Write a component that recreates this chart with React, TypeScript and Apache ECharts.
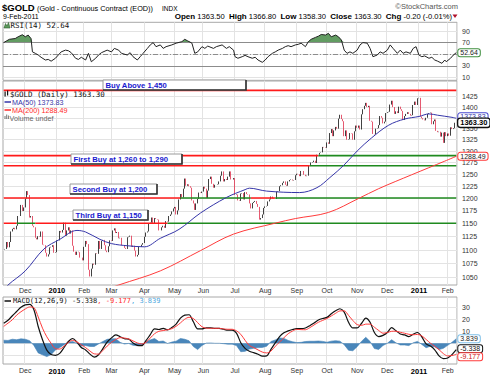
import React, { useEffect, useRef } from "react";
import * as echarts from "echarts";

// ---------------- data ----------------
const firstDay = "2009-11-09";
const lastDay = "2011-02-09";
const holidays = [
  "2009-11-26", "2009-12-25", "2010-01-01", "2010-01-18", "2010-02-15", "2010-04-02",
  "2010-05-31", "2010-07-05", "2010-09-06", "2010-11-25", "2010-12-24", "2011-01-17",
];

// daily closes, one per trading day
const closes: number[] = [
  // Nov 2009
  1101, 1102, 1115, 1105, 1115, 1135, 1140, 1142, 1139, 1146, 1165, 1165, 1187, 1175, 1182,
  // Dec 2009
  1200, 1215, 1207, 1162, 1165, 1146, 1143, 1123, 1120, 1126, 1125, 1135, 1110, 1109, 1095, 1088, 1092, 1105, 1106, 1109, 1095, 1096,
  // Jan 2010
  1118, 1118, 1136, 1133, 1138, 1152, 1127, 1137, 1143, 1131, 1137, 1108, 1097, 1091, 1097, 1096, 1086, 1086, 1081,
  // Feb 2010
  1106, 1117, 1111, 1064, 1052, 1066, 1075, 1073, 1094, 1093, 1117, 1102, 1117, 1119, 1109, 1099, 1096, 1107, 1118,
  // Mar 2010
  1117, 1137, 1141, 1132, 1134, 1122, 1123, 1109, 1109, 1104, 1102, 1124, 1125, 1127, 1106, 1108, 1099, 1088, 1091, 1106, 1106, 1110, 1113,
  // Apr 2010
  1125, 1133, 1135, 1151, 1152, 1162, 1150, 1161, 1159, 1158, 1137, 1137, 1143, 1146, 1142, 1155, 1154, 1165, 1168, 1174, 1180,
  // May 2010
  1183, 1168, 1176, 1198, 1209, 1202, 1220, 1241, 1226, 1229, 1225, 1222, 1196, 1190, 1177, 1190, 1199, 1212, 1211, 1214,
  // Jun 2010
  1224, 1220, 1201, 1216, 1240, 1245, 1230, 1222, 1228, 1228, 1229, 1235, 1247, 1256, 1235, 1240, 1238, 1245, 1256, 1239, 1239, 1242,
  // Jul 2010
  1207, 1208, 1196, 1195, 1210, 1211, 1198, 1213, 1209, 1208, 1190, 1180, 1191, 1193, 1195, 1189, 1183, 1158, 1161, 1168, 1181,
  // Aug 2010
  1184, 1185, 1194, 1198, 1204, 1200, 1199, 1199, 1214, 1215, 1225, 1227, 1232, 1235, 1228, 1226, 1235, 1238, 1239, 1237, 1238, 1248,
  // Sep 2010
  1251, 1250, 1246, 1257, 1257, 1249, 1246, 1247, 1268, 1268, 1275, 1276, 1279, 1274, 1292, 1292, 1296, 1297, 1309, 1308, 1307,
  // Oct 2010
  1319, 1316, 1340, 1349, 1333, 1346, 1354, 1350, 1373, 1382, 1372, 1367, 1333, 1346, 1325, 1326, 1340, 1339, 1325, 1344, 1357,
  // Nov 2010
  1352, 1357, 1348, 1383, 1395, 1403, 1410, 1400, 1403, 1368, 1366, 1338, 1337, 1350, 1351, 1358, 1379, 1375, 1362, 1366, 1386,
  // Dec 2010
  1388, 1389, 1406, 1415, 1400, 1384, 1390, 1386, 1401, 1395, 1391, 1370, 1379, 1384, 1388, 1384, 1380, 1381, 1405, 1413, 1405, 1421,
  // Jan 2011
  1422, 1378, 1374, 1371, 1369, 1375, 1384, 1386, 1387, 1360, 1367, 1371, 1345, 1342, 1343, 1332, 1341, 1318, 1342, 1333,
  // Feb 2011
  1339, 1334, 1353, 1349, 1351, 1363.5, 1363.3,
];

// [trading-day index, value]
const ma50Points: [number, number][] = [
  [0, 1027], [3, 1037], [15, 1062], [28, 1102], [39, 1120], [51, 1137], [57, 1134], [67, 1120], [75, 1112],
  [86, 1108], [98, 1106], [109, 1122], [122, 1139], [137, 1171], [155, 1202], [168, 1218], [171, 1221],
  [183, 1215], [206, 1212], [218, 1222], [227, 1243], [237, 1270], [246, 1300], [256, 1329], [268, 1358],
  [279, 1372], [289, 1378], [296, 1384], [302, 1381], [312, 1376], [315, 1373.83],
];
const ma200Points: [number, number][] = [
  [72, 1030], [80, 1037], [109, 1062], [137, 1099], [160, 1130], [189, 1151], [203, 1160], [226, 1172],
  [247, 1200], [261, 1220], [284, 1249], [307, 1278], [315, 1288.49],
];

// RSI(14): [trading-day index, value]
const rsiPoints: [number, number][] = [
  [0, 70], [2, 73], [4, 75.7], [8, 77], [10, 80], [13, 83.6], [15, 80], [17, 83], [19, 77], [20, 54], [22, 51.5],
  [24, 48.6], [26, 44.7], [29, 40], [31, 41], [33, 38], [36, 43], [38, 48.6], [40, 54], [43, 57], [45, 56],
  [47, 52.6], [50, 43], [52, 41], [54, 44.7], [57, 40], [59, 51.5], [61, 37], [64, 43], [66, 48.6], [68, 52.6],
  [72, 57], [75, 54], [77, 60], [80, 57], [82, 51.5], [86, 48.6], [88, 52.6], [90, 45.7], [93, 40], [95, 45.7],
  [97, 51.5], [100, 60], [102, 66], [104, 70], [106, 63], [109, 66], [111, 60], [113, 63], [117, 66], [120, 69],
  [124, 71.6], [126, 75.7], [128, 73], [131, 69], [133, 51.5], [135, 54], [138, 63], [140, 60], [142, 64],
  [146, 60], [148, 63], [152, 66], [155, 60], [157, 63], [160, 57], [161, 45.7], [163, 43], [166, 45.7],
  [168, 48], [170, 45.7], [173, 43], [175, 44.7], [177, 40], [180, 36], [182, 40], [184, 45.7], [187, 51.5],
  [189, 54], [191, 57], [194, 60], [196, 63], [198, 64.7], [200, 63], [203, 66], [205, 67], [207, 69],
  [210, 63], [212, 71.6], [214, 75.7], [217, 79], [219, 81], [221, 84], [224, 83], [226, 86], [228, 80],
  [231, 83], [233, 80], [235, 74.5], [237, 57], [239, 51.5], [241, 54], [243, 51.5], [246, 57], [248, 66],
  [250, 70], [253, 69], [255, 60], [257, 45.7], [260, 48.6], [262, 54], [264, 51.5], [267, 57], [269, 66],
  [271, 60], [274, 51.5], [276, 57], [278, 51.5], [280, 54], [283, 51.5], [285, 60], [287, 63], [289, 48.6],
  [291, 45.7], [293, 47], [296, 43], [298, 44.7], [300, 40], [302, 38], [305, 34.3], [307, 40], [308, 37],
  [311, 43], [313, 48.6], [315, 52.64],
];

// MACD(12,26,9): one reading every 3 trading days
const macdStep = 3;
const macdLine = [
  16.7, 19.2, 23, 26.5, 30, 32, 32.5, 28, 14, 3,
  -5.7, -9.4, -10, -8.4, -3.5, 1.5, 4, 1, -3.5, -5.5,
  -9, -11.5, -9.5, -4.5, 1, 4.5, 7, 5.5, 3.8, 3.5,
  0.3, -1.7, -2, 2.2, 7.2, 12, 11.5, 12.5, 11.2, 13.2,
  16, 21, 23.5, 23.8, 18, 12, 12, 12.8, 12.8, 12.5,
  12.5, 11.7, 11, 11, 8.5, 0.5, -4.2, -6.6, -7.8, -9.1,
  -10.7, -10.5, -5, 0.3, 5.5, 8.7, 10.4, 11.5, 12.2, 12.2,
  12.8, 14.7, 17, 19.4, 20.7, 21.6, 24.6, 27.2, 28.8, 26,
  17.5, 12.8, 12.8, 16.5, 21, 17.5, 9, 5.6, 6.6, 9,
  13, 10.5, 7.8, 7, 5.6, 7.5, 9, 5.3, -0.5, -2.3,
  -5.4, -10.5, -12.8, -12.2, -9.4, -5.338,
];
const signalLine = [
  14.1, 16.8, 19.6, 23.5, 26.3, 28.6, 30.3, 29.8, 22, 12.6,
  5.4, 0, -4.5, -4.8, -2.3, 0.7, 2.5, 1.1, -1.2, -3.6,
  -6.4, -8.8, -9, -6, -2.3, 0.8, 3.2, 4.7, 4.4, 3.6,
  2, 0.3, -0.5, 0.8, 4.4, 8, 10, 10.6, 11.3, 12.2,
  14.2, 17, 20.1, 21.7, 20.7, 17.2, 13.8, 12.6, 12.5, 12.5,
  12.5, 12, 11.7, 11.7, 10.4, 7.5, 2.5, -1.8, -3.6, -5.5,
  -7.3, -8, -6.5, -2.5, 1, 4.6, 8, 10.2, 11.6, 11.4,
  11.3, 13, 15.3, 17.5, 19.1, 20.7, 22.8, 25, 27, 27.1,
  23.3, 19, 15.6, 14.9, 16, 16, 13.4, 10.7, 8.4, 9,
  10, 10.1, 9.2, 8.4, 7.5, 7.1, 7.4, 6.2, 3.2, 0.1,
  -2.5, -5.3, -8.6, -10.5, -10.2, -9.177,
];

const priceGridValues = [1050, 1075, 1100, 1125, 1150, 1175, 1200, 1225, 1250, 1275, 1300, 1325, 1350, 1375, 1400, 1425];
const priceTicks = [1050, 1075, 1100, 1125, 1150, 1175, 1200, 1225, 1250, 1275, 1300, 1325, 1350, 1400, 1425];
const rsiTicks = [10, 30, 70, 90];
const rsiGridValues = [10, 30, 50, 70, 90];
const macdTicks = [10, 20, 30];
const macdGridValues = [-10, 0, 10, 20, 30];

// annotation lines: level, and spans where price was below (red) / above (green)
const buyLevels = [1440, 1290, 1268, 1201, 1151];
const buySpans: [number, string, string, "below" | "above"][] = [
  [0, "2009-11-09", "2011-02-09", "below"],
  [1, "2009-11-09", "2010-09-23", "below"], [1, "2010-09-23", "2011-02-09", "above"],
  [2, "2009-11-09", "2010-09-15", "below"], [2, "2010-09-15", "2011-02-09", "above"],
  [3, "2009-11-09", "2010-05-07", "below"], [3, "2010-05-07", "2010-07-19", "above"],
  [3, "2010-07-19", "2010-08-11", "below"], [3, "2010-08-11", "2011-02-09", "above"],
  [4, "2009-11-09", "2009-11-20", "below"], [4, "2009-11-20", "2009-12-10", "above"],
  [4, "2009-12-10", "2010-04-26", "below"], [4, "2010-04-26", "2011-02-09", "above"],
];
const buyNotes = ["Buy Above 1,450", "First Buy at 1,260 to 1,290", "Second Buy at 1,200", "Third Buy at 1,150"];

const quote = { open: "1363.50", high: "1366.80", low: "1358.30", close: "1363.30", chg: "-0.20", pct: "(-0.01%)" };
const monthNames = ["Jan", "Feb", "Mar", "Apr", "May", "Jun", "Jul", "Aug", "Sep", "Oct", "Nov", "Dec"];

// ---------------- helpers ----------------
const SANS = '"Liberation Sans", Arial, sans-serif';
const MONO = '"DejaVu Sans Mono", monospace';
const ln = Math.log;

function tradingDays(from: string, to: string, skip: string[]): string[] {
  const out: string[] = [];
  const d = new Date(from + "T00:00:00Z");
  const end = new Date(to + "T00:00:00Z");
  while (d.getTime() <= end.getTime()) {
    const wd = d.getUTCDay();
    const s = d.toISOString().slice(0, 10);
    if (wd !== 0 && wd !== 6 && skip.indexOf(s) < 0) out.push(s);
    d.setUTCDate(d.getUTCDate() + 1);
  }
  return out;
}

function buildOption() {
  const dates = tradingDays(firstDay, lastDay, holidays);
  const n = Math.min(dates.length, closes.length);
  const last = n - 1;
  const isMonthStart = (i: number) => i > 0 && i < n && dates[i].slice(0, 7) !== dates[i - 1].slice(0, 7);
  const fmtMonth = (v: string) => {
    const m = Number(v.slice(5, 7)) - 1;
    return m === 0 ? `{y|${v.slice(0, 4)}}` : monthNames[m];
  };

  const candles = closes.slice(0, n).map((c, i) => {
    const o = i > 0 ? closes[i - 1] : c;
    return [ln(o), ln(c), ln(Math.min(o, c)), ln(Math.max(o, c))];
  });

  const lastRsi = rsiPoints[rsiPoints.length - 1][1];
  const lastMacd = macdLine[macdLine.length - 1];
  const lastSig = signalLine[signalLine.length - 1];
  const lastHist = lastMacd - lastSig;
  const lastMa50 = ma50Points[ma50Points.length - 1][1];
  const lastMa200 = ma200Points[ma200Points.length - 1][1];
  const macdX = (i: number) => Math.min(i * macdStep, last);

  const axisText = { fontSize: 7, color: "#333", fontFamily: SANS };
  const L = 3, R = 33;

  const xBase = (gi: number, showLabel: boolean, margin: number) => ({
    type: "category",
    gridIndex: gi,
    data: dates.slice(0, n),
    boundaryGap: true,
    axisLine: { show: false },
    axisTick: { show: false },
    axisLabel: {
      show: showLabel,
      interval: (i: number) => isMonthStart(i),
      formatter: fmtMonth,
      margin,
      ...axisText,
      rich: { y: { fontSize: 7.5, fontWeight: "bold", color: "#000", fontFamily: SANS } },
    },
    splitLine: { show: true, interval: (i: number) => isMonthStart(i), lineStyle: { color: "#e3e3e3", width: 1 } },
  });

  const tag = (text: string, border: string, color = "#222", bold = false, dy = 0) => ({
    show: true,
    formatter: () => text,
    distance: 2,
    offset: [0, dy],
    fontSize: bold ? 7.5 : 7,
    fontWeight: bold ? "bold" : "normal",
    fontFamily: SANS,
    color,
    backgroundColor: "#fff",
    borderColor: border,
    borderWidth: bold ? 1.3 : 1,
    borderRadius: 2,
    padding: [0, 2, 0, 2],
  });

  const noSym = { symbol: "none", silent: true };

  const buySeries = buySpans.map(([lv, a, b, kind]) => ({
    type: "line",
    xAxisIndex: 1,
    yAxisIndex: 1,
    ...noSym,
    data: [[a, ln(buyLevels[lv])], [b, ln(buyLevels[lv])]],
    lineStyle: { color: kind === "below" ? "#ff1a1a" : "#1f8a1f", width: 1.6 },
    z: 4,
  }));

  // label boxes
  const boxes = [
    { x: 103, y: 80, w: 143, h: 10 },
    { x: 71, y: 154, w: 111, h: 10 },
    { x: 70, y: 184, w: 87, h: 10 },
    { x: 73, y: 210, w: 75, h: 10 },
  ];
  const boxGraphics: any[] = [];
  boxes.forEach((b, i) => {
    boxGraphics.push({
      type: "rect", z: 100, shape: { x: b.x, y: b.y, width: b.w, height: b.h },
      style: { fill: "#fff", stroke: "#9a9a9a", lineWidth: 1 },
    });
    boxGraphics.push({
      type: "polyline", z: 101,
      shape: { points: [[b.x + b.w, b.y], [b.x + b.w, b.y + b.h], [b.x, b.y + b.h]] },
      style: { stroke: "#333", lineWidth: 1.6, fill: null },
    });
    boxGraphics.push({
      type: "text", z: 102, x: b.x + 2.5, y: b.y + b.h / 2 + 0.5,
      style: {
        text: buyNotes[i], fill: "#1a1ad0", fontSize: 7.7, fontWeight: "bold", fontFamily: SANS,
        align: "left", verticalAlign: "middle", textAlign: "left", textVerticalAlign: "middle",
      },
    });
  });

  const txt = (x: number, y: number, text: string, o: any = {}) => ({
    type: "text", z: 100, x, y,
    style: {
      text, fill: "#000", fontSize: 7, fontFamily: SANS,
      align: "left", verticalAlign: "middle", textAlign: "left", textVerticalAlign: "middle",
      ...o,
    },
  });

  const graphics: any[] = [
    txt(2, 7.5, "$GOLD", { fontSize: 9.5, fontWeight: "bold" }),
    txt(37, 8, "(Gold - Continuous Contract (EOD))", { fontSize: 7.3 }),
    txt(162, 8, "INDX", { fontSize: 6.5 }),
    txt(3, 16, "9-Feb-2011", { fontSize: 7 }),
    txt(458, 6.5, "\u00A9StockCharts.com", { fontSize: 7.5, fill: "#555", align: "right", textAlign: "right" }),
    txt(452, 16.5, `{b|Open} ${quote.open}  {b|High} ${quote.high}  {b|Low} ${quote.low}  {b|Close} ${quote.close}  {b|Chg} ${quote.chg} ${quote.pct}`, {
      fontSize: 7.6, align: "right", textAlign: "right",
      rich: { b: { fontWeight: "bold", fontSize: 8, fontFamily: SANS, fill: "#000", color: "#000" } },
    }),
    { type: "polygon", z: 100, shape: { points: [[452.5, 14.5], [457.5, 14.5], [455, 18]] }, style: { fill: "#b0102a" } },
    // RSI legend
    { type: "polygon", z: 100, shape: { points: [[4, 28], [5.5, 23.5], [7, 26], [8.5, 22.5], [10, 28]] }, style: { fill: "#5c9a5c", stroke: "#2d5d2d", lineWidth: 0.6 } },
    txt(10.5, 25.5, `RSI(14) ${lastRsi.toFixed(2)}`, { fontSize: 7.5, fontFamily: MONO, fill: "#111" }),
    // main legend
    { type: "rect", z: 100, shape: { x: 4.5, y: 91.5, width: 1.2, height: 5 }, style: { fill: "#111" } },
    { type: "rect", z: 100, shape: { x: 7, y: 90.5, width: 1.2, height: 5 }, style: { fill: "#111" } },
    txt(10, 94, `$GOLD (Daily) ${quote.close}`, { fontSize: 7.5, fontFamily: MONO, fill: "#111" }),
    { type: "line", z: 100, shape: { x1: 4.5, y1: 102, x2: 11, y2: 102 }, style: { stroke: "#3535a8", lineWidth: 1.5 } },
    txt(12, 102, `MA(50) ${lastMa50.toFixed(2)}`, { fontSize: 7.2, fill: "#3535a8" }),
    { type: "line", z: 100, shape: { x1: 4.5, y1: 110, x2: 11, y2: 110 }, style: { stroke: "#ff2a2a", lineWidth: 1.5 } },
    txt(12, 110, `MA(200) ${lastMa200.toFixed(2)}`, { fontSize: 7.2, fill: "#ff2a2a" }),
    { type: "rect", z: 100, shape: { x: 4.5, y: 116, width: 1, height: 3 }, style: { fill: "#777" } },
    { type: "rect", z: 100, shape: { x: 6.2, y: 114.5, width: 1, height: 4.5 }, style: { fill: "#777" } },
    { type: "rect", z: 100, shape: { x: 7.9, y: 115.5, width: 1, height: 3.5 }, style: { fill: "#777" } },
    txt(9.5, 118, "Volume undef", { fontSize: 7.2, fill: "#666" }),
    // MACD legend
    { type: "line", z: 100, shape: { x1: 4.5, y1: 301, x2: 11, y2: 301 }, style: { stroke: "#111", lineWidth: 1.5 } },
    txt(13, 301, `MACD(12,26,9) ${lastMacd.toFixed(3)}{r|, ${lastSig.toFixed(3)}}{c|, ${lastHist.toFixed(3)}}`, {
      fontSize: 7, fontFamily: MONO, fill: "#111",
      rich: {
        r: { fill: "#ff2a2a", color: "#ff2a2a", fontSize: 7, fontFamily: MONO },
        c: { fill: "#4aa6de", color: "#4aa6de", fontSize: 7, fontFamily: MONO },
      },
    }),
    ...boxGraphics,
  ];

  return {
    animation: false,
    backgroundColor: "#fff",
    textStyle: { fontFamily: SANS },
    grid: [
      { left: L, right: R, top: 22.3, height: 58, show: true, borderColor: "#a8a8a8", borderWidth: 1, backgroundColor: "#fff" },
      { left: L, right: R, top: 81, height: 204, show: true, borderColor: "#a8a8a8", borderWidth: 1, backgroundColor: "#fff" },
      { left: L, right: R, top: 297, height: 67, show: true, borderColor: "#a8a8a8", borderWidth: 1, backgroundColor: "#fff" },
    ],
    xAxis: [xBase(0, false, 3), xBase(1, true, 1.5), xBase(2, true, 3)],
    yAxis: [
      {
        type: "value", gridIndex: 0, position: "right", min: 5, max: 105,
        axisLine: { show: false }, axisTick: { show: false, customValues: rsiGridValues },
        axisLabel: { customValues: rsiTicks, margin: 5, ...axisText },
        splitLine: { show: true, lineStyle: { color: "#e3e3e3" } },
      },
      {
        type: "value", gridIndex: 1, position: "right", min: ln(1037), max: ln(1463),
        axisLine: { show: false }, axisTick: { show: false, customValues: priceGridValues.map(ln) },
        axisLabel: { customValues: priceTicks.map(ln), margin: 5, ...axisText, formatter: (v: number) => String(Math.round(Math.exp(v))) },
        splitLine: { show: true, lineStyle: { color: "#e3e3e3" } },
      },
      {
        type: "value", gridIndex: 2, position: "right", min: -17.25, max: 38.6,
        axisLine: { show: false }, axisTick: { show: false, customValues: macdGridValues },
        axisLabel: { customValues: macdTicks, margin: 5, ...axisText },
        splitLine: { show: true, lineStyle: { color: "#e3e3e3" } },
      },
    ],
    series: [
      // ---- RSI ----
      {
        type: "line", xAxisIndex: 0, yAxisIndex: 0, ...noSym, stack: "rsiFill",
        data: rsiPoints.map(([i]) => [i, 70]), lineStyle: { width: 0, opacity: 0 },
      },
      {
        type: "line", xAxisIndex: 0, yAxisIndex: 0, ...noSym, stack: "rsiFill",
        data: rsiPoints.map(([i, v]) => [i, Math.max(0, v - 70)]),
        lineStyle: { width: 0, opacity: 0 }, areaStyle: { color: "#5a975a", opacity: 0.95 },
      },
      {
        type: "line", xAxisIndex: 0, yAxisIndex: 0, ...noSym,
        data: rsiPoints, lineStyle: { color: "#222", width: 1 },
        markLine: {
          silent: true, symbol: "none", label: { show: false },
          data: [
            { yAxis: 70, lineStyle: { color: "#8c8c8c", width: 1, type: "solid" } },
            { yAxis: 30, lineStyle: { color: "#8c8c8c", width: 1, type: "solid" } },
            { yAxis: 50, lineStyle: { color: "#8c8c8c", width: 1, type: [5, 2, 1, 2] } },
          ],
        },
        endLabel: tag(lastRsi.toFixed(2), "#3f8f3f"),
        z: 5,
      },
      // ---- price ----
      {
        type: "candlestick", xAxisIndex: 1, yAxisIndex: 1, data: candles, barWidth: 1.3, silent: true,
        itemStyle: { color: "#111", color0: "#e0304c", borderColor: "#111", borderColor0: "#e0304c", borderWidth: 0.8 },
        z: 3,
      },
      ...buySeries,
      {
        type: "line", xAxisIndex: 1, yAxisIndex: 1, ...noSym, smooth: 0.35,
        data: ma200Points.map(([i, v]) => [i, ln(v)]), lineStyle: { color: "#ff3b3b", width: 1 },
        endLabel: tag(lastMa200.toFixed(2), "#ff3b3b", "#222"), z: 5,
      },
      {
        type: "line", xAxisIndex: 1, yAxisIndex: 1, ...noSym, smooth: 0.35,
        data: ma50Points.map(([i, v]) => [i, ln(v)]), lineStyle: { color: "#3535a8", width: 1 },
        endLabel: tag(lastMa50.toFixed(2), "#4a4ad0", "#3535a8", false, -1.5), z: 5,
      },
      {
        type: "line", xAxisIndex: 1, yAxisIndex: 1, ...noSym,
        data: [[last - 1, ln(closes[last - 1])], [last, ln(closes[last])]], lineStyle: { width: 0, opacity: 0 },
        endLabel: tag(closes[last].toFixed(2), "#111", "#000", true), z: 6,
      },
      // ---- MACD ----
      {
        type: "line", xAxisIndex: 2, yAxisIndex: 2, ...noSym,
        data: macdLine.map((m, i) => [macdX(i), m - signalLine[i]]),
        lineStyle: { color: "#3f7fb6", width: 0.6 }, areaStyle: { color: "#3f7fb6", opacity: 0.95 },
        endLabel: tag(lastHist.toFixed(3), "#7fc0e8", "#222"), z: 3,
      },
      {
        type: "line", xAxisIndex: 2, yAxisIndex: 2, ...noSym, smooth: 0.3,
        data: macdLine.map((m, i) => [macdX(i), m]), lineStyle: { color: "#111", width: 1.2 },
        endLabel: tag(lastMacd.toFixed(3), "#111", "#111", false, -1), z: 5,
      },
      {
        type: "line", xAxisIndex: 2, yAxisIndex: 2, ...noSym, smooth: 0.3,
        data: signalLine.map((m, i) => [macdX(i), m]), lineStyle: { color: "#ff3b3b", width: 1 },
        endLabel: tag(lastSig.toFixed(3), "#ff3b3b", "#cc1111", false, 2.5), z: 6,
      },
    ],
    graphic: { elements: graphics },
  };
}

export default function App() {
  const ref = useRef<HTMLDivElement>(null);
  useEffect(() => {
    if (!ref.current) return;
    const chart = echarts.init(ref.current, undefined, { renderer: "svg", width: 490, height: 376 });
    chart.setOption(buildOption() as any);
    return () => chart.dispose();
  }, []);
  return <div ref={ref} style={{ position: "absolute", left: 0, top: 0, width: 490, height: 376 }} />;
}
